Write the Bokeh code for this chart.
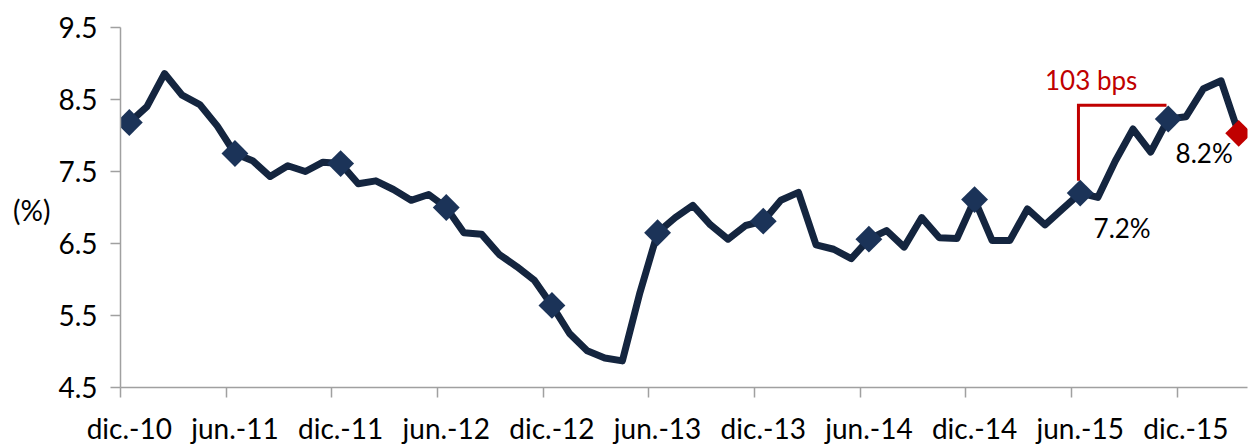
from bokeh.plotting import figure
from bokeh.models import FixedTicker, Label, Range1d, LinearAxis
from bokeh.embed import file_html
from bokeh.resources import INLINE

# Monthly series, dic.-10 .. mar.-16 (%)
values = [8.18, 8.40, 8.86, 8.56, 8.43, 8.13, 7.75, 7.65, 7.43, 7.58, 7.50, 7.63,
          7.61, 7.33, 7.37, 7.25, 7.10, 7.18, 7.00, 6.65, 6.63, 6.35, 6.18, 5.99,
          5.64, 5.25, 5.01, 4.91, 4.87, 5.82, 6.65, 6.86, 7.03, 6.76, 6.56, 6.75,
          6.81, 7.10, 7.21, 6.48, 6.42, 6.29, 6.56, 6.68, 6.45, 6.86, 6.58, 6.57,
          7.11, 6.54, 6.54, 6.98, 6.76, 6.98, 7.20, 7.14, 7.65, 8.09, 7.77, 8.23,
          8.26, 8.65, 8.76, 8.03]
tick_labels = ["dic.-10", "jun.-11", "dic.-11", "jun.-12", "dic.-12", "jun.-13",
               "dic.-13", "jun.-14", "dic.-14", "jun.-15", "dic.-15"]
y_ticks = [4.5, 5.5, 6.5, 7.5, 8.5, 9.5]
marker_idx = [0, 6, 12, 18, 24, 30, 36, 42, 48, 54, 59]
last_idx = 63
low_idx, high_idx = 54, 59   # 7.2% -> 8.2%  (103 bps)
unit_label = "(%)"
unit_label_y = 6.96

FONT = "Lato"
NAVY = "#14253F"
MARK = "#1B3358"
RED = "#C00000"
GREY = "#A0A0A0"

n = len(values)
x = list(range(n))

p = figure(width=1250, height=448, x_range=Range1d(-0.5, n - 0.5),
           y_range=Range1d(4.5, 9.5), output_backend="svg", toolbar_location=None,
           min_border_left=120, min_border_right=3, min_border_top=27,
           min_border_bottom=61)
p.outline_line_color = None
p.xgrid.grid_line_color = None
p.ygrid.grid_line_color = None
p.background_fill_color = "white"
p.border_fill_color = "white"

# x axis: labels at category centres, tick marks between categories
major = [6 * k for k in range(len(tick_labels))]
p.xaxis.ticker = FixedTicker(ticks=major, minor_ticks=[m - 0.5 for m in major])
p.xaxis.major_label_overrides = {m: lab for m, lab in zip(major, tick_labels)}
p.xaxis.major_tick_line_color = None
p.xaxis.major_tick_out = 10
p.xaxis.major_tick_in = 0
p.xaxis.minor_tick_out = 10
p.xaxis.minor_tick_in = 0
p.xaxis.minor_tick_line_color = GREY
p.xaxis.minor_tick_line_width = 1.5
p.xaxis.axis_line_color = GREY
p.xaxis.axis_line_width = 1.5
p.xaxis.major_label_standoff = 13
p.xaxis.major_label_text_font = FONT
p.xaxis.major_label_text_font_size = "28px"
p.xaxis.major_label_text_color = "black"

p.yaxis.ticker = FixedTicker(ticks=y_ticks, minor_ticks=[])
p.yaxis.major_label_overrides = {t: f"{t:.1f}" for t in y_ticks}
p.yaxis.major_tick_out = 10
p.yaxis.major_tick_in = 0
p.yaxis.major_tick_line_color = GREY
p.yaxis.major_tick_line_width = 1.5
p.yaxis.axis_line_color = GREY
p.yaxis.axis_line_width = 1.5
p.yaxis.major_label_standoff = 13
p.yaxis.major_label_text_font = FONT
p.yaxis.major_label_text_font_size = "28px"
p.yaxis.major_label_text_color = "black"

# horizontal "(%)" unit label, as an outer left axis with one tick
unit_axis = LinearAxis(ticker=FixedTicker(ticks=[unit_label_y], minor_ticks=[]),
                       major_label_overrides={unit_label_y: unit_label},
                       axis_line_color=None, major_tick_line_color=None,
                       major_tick_out=0, major_tick_in=0,
                       minor_tick_line_color=None,
                       major_label_standoff=5,
                       major_label_text_font=FONT,
                       major_label_text_font_size="28px",
                       major_label_text_color="black")
p.add_layout(unit_axis, "left")

# main line
p.line(x, values, line_color=NAVY, line_width=7, line_join="round")

# diamond markers
p.scatter([x[i] for i in marker_idx], [values[i] for i in marker_idx],
          marker="square", size=19, angle=0.785398,
          fill_color=MARK, line_color=None)
p.scatter([x[last_idx]], [values[last_idx]], marker="square", size=19,
          angle=0.785398, fill_color=RED, line_color=None)

# 103 bps bracket
bracket_top = 8.42
p.line([x[low_idx] - 0.1, x[low_idx] - 0.1, x[high_idx] - 0.1],
       [values[low_idx] + 0.17, bracket_top, bracket_top],
       line_color=RED, line_width=3, line_join="miter")

bps = round((values[high_idx] - values[low_idx]) * 100)
p.add_layout(Label(x=54.62, y=8.77, text=f"{bps} bps", text_align="center",
                   text_baseline="alphabetic", text_font=FONT,
                   text_font_size="26px", text_color=RED))
p.add_layout(Label(x=56.38, y=6.71, text=f"{values[low_idx]:.1f}%",
                   text_align="center", text_baseline="alphabetic",
                   text_font=FONT, text_font_size="26px", text_color="black"))
p.add_layout(Label(x=61.04, y=7.755, text=f"{values[high_idx]:.1f}%",
                   text_align="center", text_baseline="alphabetic",
                   text_font=FONT, text_font_size="26px", text_color="black"))

open("out.html", "w").write(file_html(p, INLINE))
